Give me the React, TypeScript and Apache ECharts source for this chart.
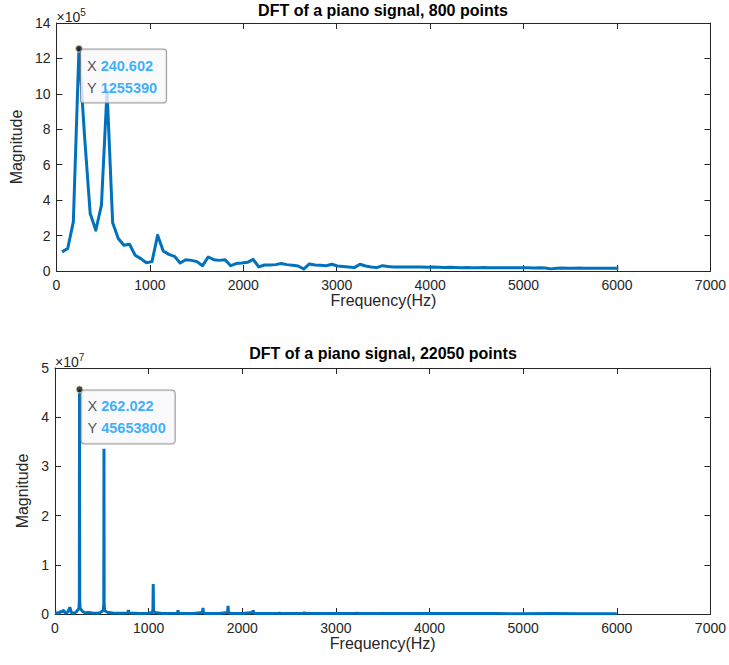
import React, { useEffect, useRef } from "react";
import * as echarts from "echarts";

// ---- Data ----
// Top: 800-point DFT, magnitude per frequency bin (bin k at k * binHz)
const TOP_BIN_HZ = 60.1505;
const topMag = [
  108000, 127000, 277000, 1255390, 760000, 325000, 230000, 372000, 1020000, 272000,
  183000, 145000, 151000, 89000, 70000, 47000, 53000, 202000, 113000, 94000,
  83000, 45000, 64000, 60000, 53000, 30000, 79000, 64000, 60000, 64000,
  30000, 42000, 45000, 49000, 66000, 23000, 34000, 34000, 36000, 42000,
  36000, 33000, 28000, 11000, 40000, 34000, 32000, 30000, 38000, 28000,
  26000, 23000, 19000, 38000, 28000, 23000, 19000, 30000, 26000, 23000,
  23000, 22000, 23000, 22000, 22000, 21000, 22000, 21000, 20000, 21000,
  20000, 19000, 20000, 19000, 19000, 20000, 19000, 19000, 18000, 19000,
  18000, 19000, 18000, 18000, 17000, 18000, 17000, 12000, 16000, 17000,
  16000, 16000, 17000, 16000, 15000, 15000, 16000, 15000, 15000, 15000,
];
const topFreq = topMag.map((_, i) => (i + 1) * TOP_BIN_HZ);
const topTip = [240.602, 1255390];

// Bottom: 22050-point DFT, sampled at the visible features
const bottomFreq = [
  0, 30, 50, 62, 68, 74, 85, 96, 104, 115, 130, 150, 158, 166, 175, 195, 215, 235, 248, 256,
  260, 262.022, 264, 268, 280, 295, 320, 360, 400, 450, 480, 500, 515, 521, 523, 525, 530, 545, 570, 620,
  700, 770, 780, 784, 788, 800, 900, 1000, 1040, 1046, 1049, 1052, 1058, 1150, 1300, 1310, 1314, 1318, 1330, 1480,
  1575, 1580, 1585, 1600, 1750, 1843, 1848, 1853, 1870, 2000, 2110, 2116, 2122, 2140, 2300, 2392, 2396, 2400, 2550, 2658,
  2663, 2668, 2800, 2940, 2945, 2950, 3100, 3218, 3223, 3228, 3350, 3433, 3437, 3441, 3600, 3808, 3812, 3816, 3950, 4075,
  4079, 4083, 4400, 4700, 5000, 5300, 5600, 6000,
];
const bottomMag = [
  150000, 250000, 200000, 600000, 550000, 400000, 650000, 700000, 350000, 200000, 250000, 900000, 1400000, 900000, 300000, 150000, 250000, 600000, 900000, 1200000,
  3000000, 45653800, 3000000, 1100000, 900000, 500000, 250000, 300000, 200000, 150000, 250000, 500000, 700000, 2000000, 33600000, 2000000, 700000, 500000, 300000, 200000,
  150000, 200000, 400000, 800000, 400000, 200000, 120000, 150000, 300000, 1000000, 6100000, 1000000, 300000, 120000, 150000, 300000, 750000, 300000, 120000, 120000,
  300000, 1250000, 300000, 120000, 120000, 300000, 1650000, 300000, 120000, 100000, 300000, 750000, 250000, 100000, 100000, 150000, 350000, 150000, 100000, 150000,
  400000, 150000, 100000, 120000, 250000, 100000, 100000, 150000, 350000, 100000, 90000, 120000, 250000, 90000, 90000, 120000, 250000, 90000, 90000, 110000,
  200000, 90000, 80000, 80000, 70000, 80000, 70000, 60000,
];
const bottomTip = [262.022, 45653800];

const xTicks = { min: 0, max: 7000, interval: 1000 };
const topY = { min: 0, max: 1400000, interval: 200000, scale: 1e5, exp: "5" };
const bottomY = { min: 0, max: 50000000, interval: 10000000, scale: 1e7, exp: "7" };

const FONT = '"Liberation Sans", Arial, Helvetica, sans-serif';
const AX = "#262626";
const LINE = "#0072BD";

function xAxes(gridIndex: number) {
  const common = {
    gridIndex,
    type: "value" as const,
    min: xTicks.min,
    max: xTicks.max,
    interval: xTicks.interval,
    splitLine: { show: false },
    axisLine: { show: true, onZero: false, lineStyle: { color: AX, width: 1 } },
    axisTick: { show: true, inside: true, length: 6, lineStyle: { color: AX } },
  };
  return [
    {
      ...common,
      position: "bottom",
      axisLabel: {
        color: AX,
        fontSize: 14,
        margin: 7,
        fontFamily: FONT,
        formatter: (v: number) => String(v),
      },
      name: "Frequency(Hz)",
      nameLocation: "middle",
      nameGap: 18,
      nameTextStyle: { color: AX, fontSize: 16, fontFamily: FONT },
    },
    { ...common, position: "top", axisLabel: { show: false } },
  ];
}

function yAxes(gridIndex: number, cfg: typeof topY, nameGap: number) {
  const common = {
    gridIndex,
    type: "value" as const,
    min: cfg.min,
    max: cfg.max,
    interval: cfg.interval,
    splitLine: { show: false },
    axisLine: { show: true, onZero: false, lineStyle: { color: AX, width: 1 } },
    axisTick: { show: true, inside: true, length: 6, lineStyle: { color: AX } },
  };
  return [
    {
      ...common,
      position: "left",
      axisLabel: {
        color: AX,
        fontSize: 14,
        margin: 6,
        fontFamily: FONT,
        formatter: (v: number) => String(Math.round(v / cfg.scale)),
      },
      name: "Magnitude",
      nameLocation: "middle",
      nameRotate: 90,
      nameGap,
      nameTextStyle: { color: AX, fontSize: 16, fontFamily: FONT },
    },
    { ...common, position: "right", axisLabel: { show: false } },
    {
      gridIndex,
      type: "value" as const,
      position: "left",
      min: 0,
      max: 1,
      axisLine: { show: false, onZero: false },
      axisTick: { show: false },
      axisLabel: { show: false },
      splitLine: { show: false },
      name: `{a|×10}{b|${cfg.exp}}`,
      nameLocation: "end",
      nameGap: -4,
      nameTextStyle: {
        align: "left",
        verticalAlign: "bottom",
        color: AX,
        fontFamily: FONT,
        rich: {
          a: { fontSize: 14, color: AX, fontFamily: FONT },
          b: { fontSize: 10, color: AX, fontFamily: FONT, padding: [0, 0, 10, 0] },
        },
      },
    },
  ];
}

function tipSeries(xAxisIndex: number, yAxisIndex: number, tip: number[]) {
  return {
    type: "scatter",
    xAxisIndex,
    yAxisIndex,
    data: [tip],
    symbol: "circle",
    symbolSize: 7,
    z: 10,
    itemStyle: { color: "#1a1a1a", borderColor: "#fff6bf", borderWidth: 1 },
    label: {
      show: true,
      position: [6, 5],
      fontFamily: FONT,
      fontSize: 14.5,
      color: AX,
      lineHeight: 22,
      backgroundColor: "#f9f9fc",
      borderColor: "#7f7f7f",
      borderWidth: 1,
      borderRadius: 3,
      padding: [5, 9, 4, 6],
      formatter: () => `{k|X} {v|${tip[0]}}\n{k|Y} {v|${tip[1]}}`,
      rich: {
        k: { color: AX, fontSize: 14.5, fontFamily: FONT, lineHeight: 22 },
        v: { color: "#0a9bff", fontSize: 14.5, fontWeight: "bold", fontFamily: FONT, lineHeight: 22 },
      },
    },
  };
}

export default function App() {
  const ref = useRef<HTMLDivElement>(null);
  useEffect(() => {
    if (!ref.current) return;
    const chart = echarts.init(ref.current, undefined, { renderer: "svg" });
    chart.setOption({
      animation: false,
      backgroundColor: "#ffffff",
      textStyle: { fontFamily: FONT },
      title: [
        {
          text: "DFT of a piano signal, 800 points",
          left: 383,
          top: 2,
          padding: 0,
          textAlign: "center",
          textStyle: { fontSize: 16, fontWeight: "bold", color: "#000", fontFamily: FONT },
        },
        {
          text: "DFT of a piano signal, 22050 points",
          left: 383,
          top: 345,
          padding: 0,
          textAlign: "center",
          textStyle: { fontSize: 16, fontWeight: "bold", color: "#000", fontFamily: FONT },
        },
      ],
      grid: [
        { left: 55, top: 23, width: 656, height: 248 },
        { left: 55, top: 368, width: 656, height: 246 },
      ],
      xAxis: [...xAxes(0), ...xAxes(1)],
      yAxis: [...yAxes(0, topY, 26), ...yAxes(1, bottomY, 16)],
      series: [
        {
          type: "line",
          xAxisIndex: 0,
          yAxisIndex: 0,
          data: topFreq.map((f, i) => [f, topMag[i]]),
          showSymbol: false,
          symbol: "none",
          lineStyle: { color: LINE, width: 3, join: "round" },
          z: 3,
        },
        tipSeries(0, 0, topTip),
        {
          type: "line",
          xAxisIndex: 2,
          yAxisIndex: 3,
          data: bottomFreq.map((f, i) => [f, bottomMag[i]]),
          showSymbol: false,
          symbol: "none",
          lineStyle: { color: LINE, width: 3 },
          z: 3,
        },
        tipSeries(2, 3, bottomTip),
      ],
    });
    return () => chart.dispose();
  }, []);
  return (
    <div
      ref={ref}
      style={{ position: "absolute", left: 0, top: 0, width: 729, height: 665, background: "#fff" }}
    />
  );
}
